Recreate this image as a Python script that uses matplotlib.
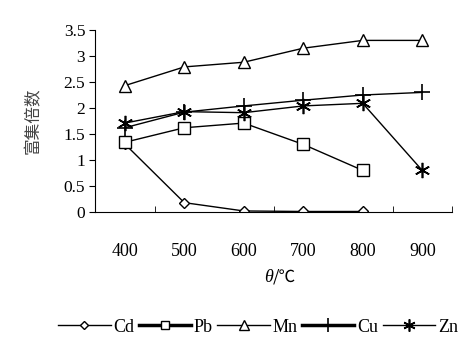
import matplotlib.pyplot as plt
import numpy as np

plt.rcParams['font.family'] = ['Liberation Serif', 'Noto Sans CJK SC']

temps = ['400', '500', '600', '700', '800', '900']
cd = [1.31, 0.18, 0.02, 0.01, 0.01]
pb = [1.34, 1.62, 1.71, 1.30, 0.80]
mn = [2.43, 2.79, 2.88, 3.15, 3.30, 3.30]
cu = [1.62, 1.92, 2.04, 2.15, 2.25, 2.30]
zn = [1.71, 1.93, 1.91, 2.04, 2.09, 0.80]

fig = plt.figure(figsize=(4.59, 3.45), dpi=100)
ax = fig.add_axes([95 / 459, 1 - 212 / 345, 357 / 459, 182 / 345])

x = np.arange(len(temps))
lw = 1.0
ax.plot(x[:len(cd)], cd, color='black', lw=lw, marker='D', ms=5,
        mfc='white', mec='black', mew=1, label='Cd')
ax.plot(x[:len(pb)], pb, color='black', lw=lw, marker='s', ms=8,
        mfc='white', mec='black', mew=1, label='Pb')
ax.plot(x, mn, color='black', lw=lw, marker='^', ms=9,
        mfc='white', mec='black', mew=1, label='Mn')
ax.plot(x, cu, color='black', lw=lw, marker='+', ms=12, mew=1.2, label='Cu')
ax.plot(x, zn, color='black', lw=lw, marker=(6, 2, 0), ms=11, mew=1.2, label='Zn')

ax.set_xlim(-0.5, 5.5)
ax.set_ylim(0, 3.5)
ax.set_yticks(np.arange(0, 3.51, 0.5))
ax.set_yticklabels(['0', '0.5', '1', '1.5', '2', '2.5', '3', '3.5'], fontsize=12.5)
ax.set_xticks(x)
ax.set_xticklabels(temps, fontsize=13)
ax.tick_params(axis='x', length=0, pad=22)
ax.set_xticks([0.5, 2.5, 4.5, 5.5], minor=True)
ax.tick_params(axis='x', which='minor', direction='in', length=4)
ax.tick_params(axis='y', direction='out', length=4, pad=3)
ax.spines['top'].set_visible(False)
ax.spines['right'].set_visible(False)

# x-axis title: italic theta followed by the unit
fig.text(273 / 459, 1 - 277 / 345, 'θ', style='italic', fontsize=13,
         ha='right', va='center')
fig.text(273 / 459, 1 - 277 / 345, '/℃', fontsize=12, ha='left', va='center',
         family=['Noto Sans CJK SC'])
ax.set_ylabel('富集倍数', fontsize=12, family=['Noto Sans CJK SC'],
              color='#444444', labelpad=16)

leg = fig.legend(loc='center', bbox_to_anchor=(258 / 459, 1 - 327 / 345), ncol=5,
                 frameon=False, fontsize=13, handlelength=2.9, markerscale=0.8,
                 columnspacing=0.25, handletextpad=0.15)
for line, w in zip(leg.get_lines(), [1, 2.5, 1, 2.5, 1]):
    line.set_linewidth(w)

fig.savefig('out.png', dpi=100)
